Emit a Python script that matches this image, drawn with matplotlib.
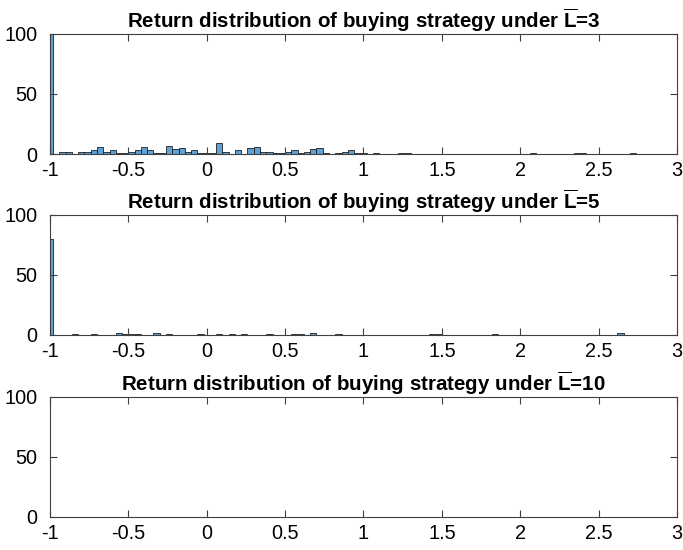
import numpy as np
import matplotlib
matplotlib.use("Agg")
import matplotlib.pyplot as plt

plt.rcParams['font.family'] = ['Liberation Sans', 'DejaVu Sans']
plt.rcParams['mathtext.fontset'] = 'custom'
plt.rcParams['mathtext.rm'] = 'Liberation Sans'
plt.rcParams['mathtext.bf'] = 'Liberation Sans:bold'
plt.rcParams['axes.unicode_minus'] = False

# bordas dos bins (largura 0.04, primeiro bin cortado em -1)
bin_edges = np.round(np.arange(-1.02, 3.03, 0.04), 2)

titles = ['Return distribution of buying strategy under $\\overline{\\mathbf{L}}$=3',
          'Return distribution of buying strategy under $\\overline{\\mathbf{L}}$=5',
          'Return distribution of buying strategy under $\\overline{\\mathbf{L}}$=10']

# contagens por bin (101 bins)
counts_L3 = [100, 0, 2, 2, 0, 2, 2, 3, 6, 2,
             3, 1, 1, 2, 3, 6, 3, 1, 1, 7,
             4, 5, 2, 3, 1, 1, 1, 9, 2, 0,
             3, 0, 5, 6, 2, 2, 1, 1, 2, 3,
             1, 2, 4, 5, 1, 0, 1, 2, 3, 1,
             1, 0, 1, 0, 0, 0, 1, 1, 0, 0,
             0, 0, 0, 0, 0, 0, 0, 0, 0, 0,
             0, 0, 0, 0, 0, 0, 0, 1, 0, 0,
             0, 0, 0, 0, 1, 1, 0, 0, 0, 0,
             0, 0, 0, 1, 0, 0, 0, 0, 0, 0,
             0]
counts_L5 = [80, 0, 0, 0, 1, 0, 0, 1, 0, 0,
             0, 2, 1, 1, 1, 0, 0, 2, 0, 1,
             0, 0, 0, 0, 1, 0, 0, 1, 0, 1,
             0, 1, 0, 0, 0, 1, 0, 0, 0, 1,
             1, 0, 2, 0, 0, 0, 1, 0, 0, 0,
             0, 0, 0, 0, 0, 0, 0, 0, 0, 0,
             0, 1, 1, 0, 0, 0, 0, 0, 0, 0,
             0, 1, 0, 0, 0, 0, 0, 0, 0, 0,
             0, 0, 0, 0, 0, 0, 0, 0, 0, 0,
             0, 2, 0, 0, 0, 0, 0, 0, 0, 0,
             0]
counts_L10 = [0] * 101  # painel vazio

x_ticks = [-1, -0.5, 0, 0.5, 1, 1.5, 2, 2.5, 3]
x_ticklabels = ['-1', '-0.5', '0', '0.5', '1', '1.5', '2', '2.5', '3']
y_ticks = [0, 50, 100]

fig = plt.figure(figsize=(6.83, 5.5), dpi=100)
bottoms = [0.72, 0.391, 0.06]
bin_centers = (bin_edges[:-1] + bin_edges[1:]) / 2
axis_color = '#404040'

for i, counts in enumerate([counts_L3, counts_L5, counts_L10]):
    ax = fig.add_axes([0.0732, bottoms[i], 0.918, 0.219])
    ax.hist(bin_centers, bins=bin_edges, weights=counts,
            facecolor='#5fa3d6', edgecolor='#1f1f1f', linewidth=0.6)
    ax.set_xlim(-1, 3)
    ax.set_ylim(0, 100)
    ax.set_xticks(x_ticks)
    ax.set_xticklabels(x_ticklabels)
    ax.set_yticks(y_ticks)
    ax.tick_params(direction='in', top=True, right=True, length=5, width=0.8,
                   color=axis_color, labelsize=14.3)
    ax.tick_params(axis='x', pad=5)
    ax.tick_params(axis='y', pad=9)
    for s in ax.spines.values():
        s.set_color(axis_color)
        s.set_linewidth(0.8)
    ax.set_title(titles[i], fontsize=14.8, fontweight='bold', pad=4)

plt.savefig('out.png', dpi=100)
